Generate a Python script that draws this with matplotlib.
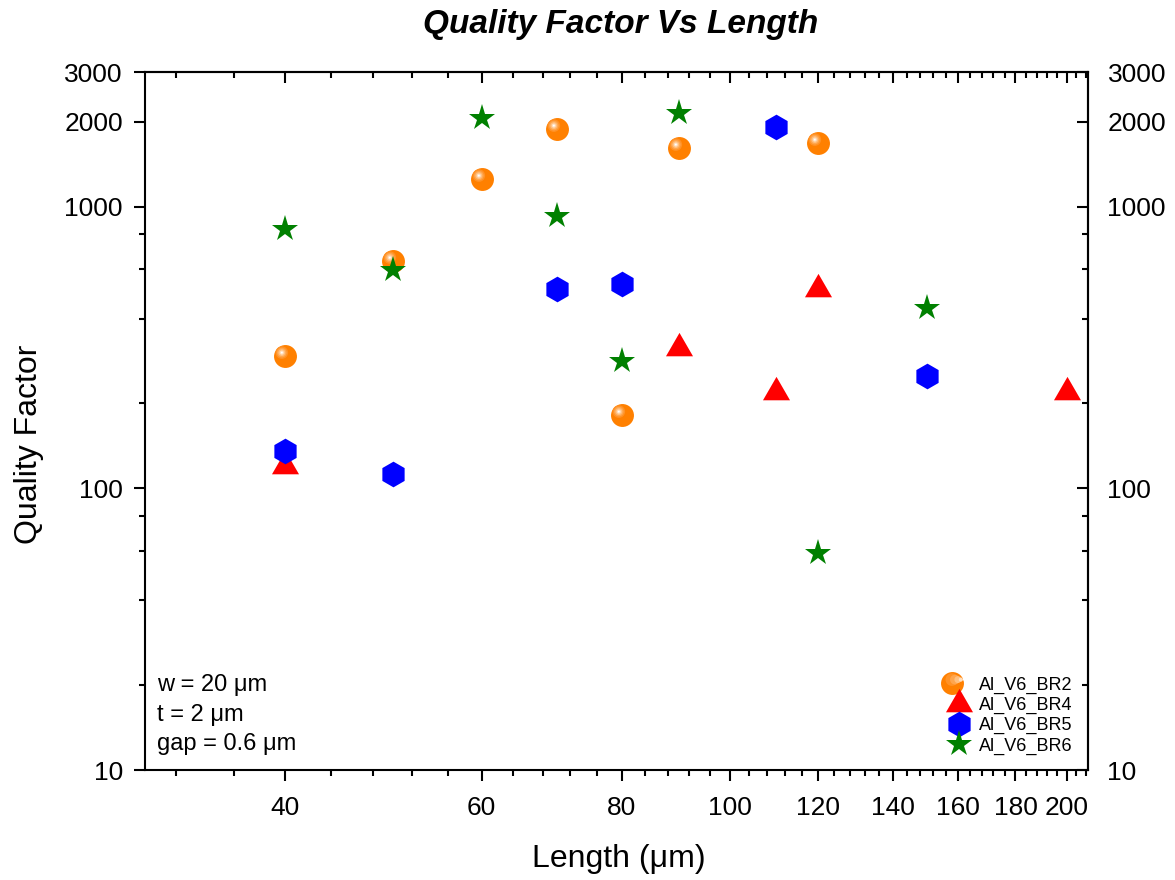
import matplotlib
matplotlib.use("Agg")
import matplotlib.pyplot as plt
import numpy as np
from matplotlib.path import Path
from matplotlib.legend_handler import HandlerTuple


# Data
length_br2 = [40, 50, 60, 70, 80, 90, 120]
q_br2 = [295, 640, 1250, 1880, 182, 1610, 1675]

length_br4 = [40, 90, 110, 120, 200]
q_br4 = [120, 315, 220, 510, 220]

length_br5 = [40, 50, 70, 80, 110, 150]
q_br5 = [136, 112, 510, 530, 1910, 250]

length_br6 = [40, 50, 60, 70, 80, 90, 120, 150]
q_br6 = [835, 597, 2055, 929, 283, 2143, 59, 437]

series_names = ["Al_V6_BR2", "Al_V6_BR4", "Al_V6_BR5", "Al_V6_BR6"]

x_major = [40, 60, 80, 100, 120, 140, 160, 180, 200]
y_major = [10, 100, 1000, 2000, 3000]
y_minor = [20, 40, 60, 80, 200, 400, 600, 800]

plt.rcParams['font.family'] = ['Liberation Sans', 'DejaVu Sans']


# Small off-centre circle used as the shiny spot on the orange spheres
def highlight_marker(cx, cy, r):
    circ = Path.circle(center=(cx, cy), radius=r)
    # invisible moves keep the marker scale equal to the base circle
    frame = Path([(-1, -1), (1, 1)], [Path.MOVETO, Path.MOVETO])
    return Path.make_compound_path(frame, circ)


fig = plt.figure(figsize=(11.75, 8.8), dpi=100)
ax = fig.add_axes([0.1234, 0.125, 0.8026, 0.793])
ax.set_xscale('log')
ax.set_yscale('log')

# Sphere-like markers for BR2
sphere_size = 16.5
base = ax.plot(length_br2, q_br2, linestyle='none', marker='o', markersize=sphere_size,
               color='#ff8000', markeredgewidth=0)[0]
glow_layers = [(0.55, '#ff9226'), (0.42, '#ffa64d'), (0.3, '#ffc080'), (0.18, '#ffdfbf'), (0.08, '#ffffff')]
sphere_handles = [base]
for r, c in glow_layers:
    ln = ax.plot(length_br2, q_br2, linestyle='none', marker=highlight_marker(-0.32, 0.34, r),
                 markersize=sphere_size, color=c, markeredgewidth=0)[0]
    sphere_handles.append(ln)

tri = Path([(-1, -0.577), (1, -0.577), (0, 1.155), (-1, -0.577)],
           [Path.MOVETO, Path.LINETO, Path.LINETO, Path.CLOSEPOLY])
h4 = ax.plot(length_br4, q_br4, linestyle='none', marker=tri, markersize=22.5,
             color='#ff0000', markeredgewidth=0)[0]
h5 = ax.plot(length_br5, q_br5, linestyle='none', marker='h', markersize=18.5,
             color='#0000ff', markeredgewidth=0)[0]
h6 = ax.plot(length_br6, q_br6, linestyle='none', marker='*', markersize=19.5,
             color='#008000', markeredgewidth=0)[0]

ax.set_xlim(30, 209)
ax.set_ylim(10, 3000)

# Ticks
x_minor = [v for v in range(32, 209, 4) if v not in x_major]
ax.set_xticks(x_major)
ax.set_xticklabels([str(v) for v in x_major])
ax.set_xticks(x_minor, minor=True)
ax.set_yticks(y_major)
ax.set_yticklabels([str(v) for v in y_major])
ax.set_yticks(y_minor, minor=True)
ax.tick_params(axis='both', which='both', direction='out', width=1.5, labelsize=19)
ax.tick_params(which='major', length=8)
ax.tick_params(which='minor', length=4, labelleft=False, labelbottom=False)
ax.tick_params(axis='x', which='major', pad=11)
ax.tick_params(axis='y', which='major', pad=8)
for s in ax.spines.values():
    s.set_linewidth(1.5)

# Right axis: inward ticks, labels on the right
sec_y = ax.secondary_yaxis('right')
sec_y.set_yticks(y_major)
sec_y.set_yticklabels([str(v) for v in y_major])
sec_y.set_yticks(y_minor, minor=True)
sec_y.tick_params(which='both', direction='in', width=1.5, labelsize=19)
sec_y.tick_params(which='major', length=8, pad=14)
sec_y.tick_params(which='minor', length=4, labelright=False)
sec_y.spines['right'].set_linewidth(1.5)

# Top axis: inward ticks, no labels
sec_x = ax.secondary_xaxis('top')
sec_x.set_xticks(x_major)
sec_x.set_xticks(x_minor, minor=True)
sec_x.tick_params(which='both', direction='in', width=1.5, labeltop=False)
sec_x.tick_params(which='major', length=8)
sec_x.tick_params(which='minor', length=4)
sec_x.spines['top'].set_linewidth(1.5)

# Titles and labels
fig.text(621 / 1175, 1 - 25 / 880, "Quality Factor Vs Length", ha='center', va='center',
         fontsize=24, fontweight='bold', fontstyle='italic')
fig.text(619 / 1175, 1 - 859 / 880, "Length (\u03bcm)", ha='center', va='center', fontsize=23)
fig.text(29 / 1175, 1 - 444 / 880, "Quality Factor", ha='center', va='center',
         rotation=90, fontsize=23)

# Geometry notes
notes = ["w = 20 \u03bcm", "t = 2 \u03bcm", "gap = 0.6 \u03bcm"]
note_y = [0.122, 0.079, 0.037]
for txt, yy in zip(notes, note_y):
    ax.text(0.0127, yy, txt, transform=ax.transAxes, ha='left', va='center', fontsize=17)

leg = ax.legend([tuple(sphere_handles), h4, h5, h6], series_names,
                handler_map={tuple: HandlerTuple(ndivide=None, pad=0)},
                loc='lower right', bbox_to_anchor=(1.0, 0.0), frameon=False,
                fontsize=13, markerscale=1.0, handlelength=1.0, handletextpad=0.6,
                labelspacing=0.17, borderaxespad=0.45, borderpad=0.4)

fig.savefig("out.png", dpi=100)
